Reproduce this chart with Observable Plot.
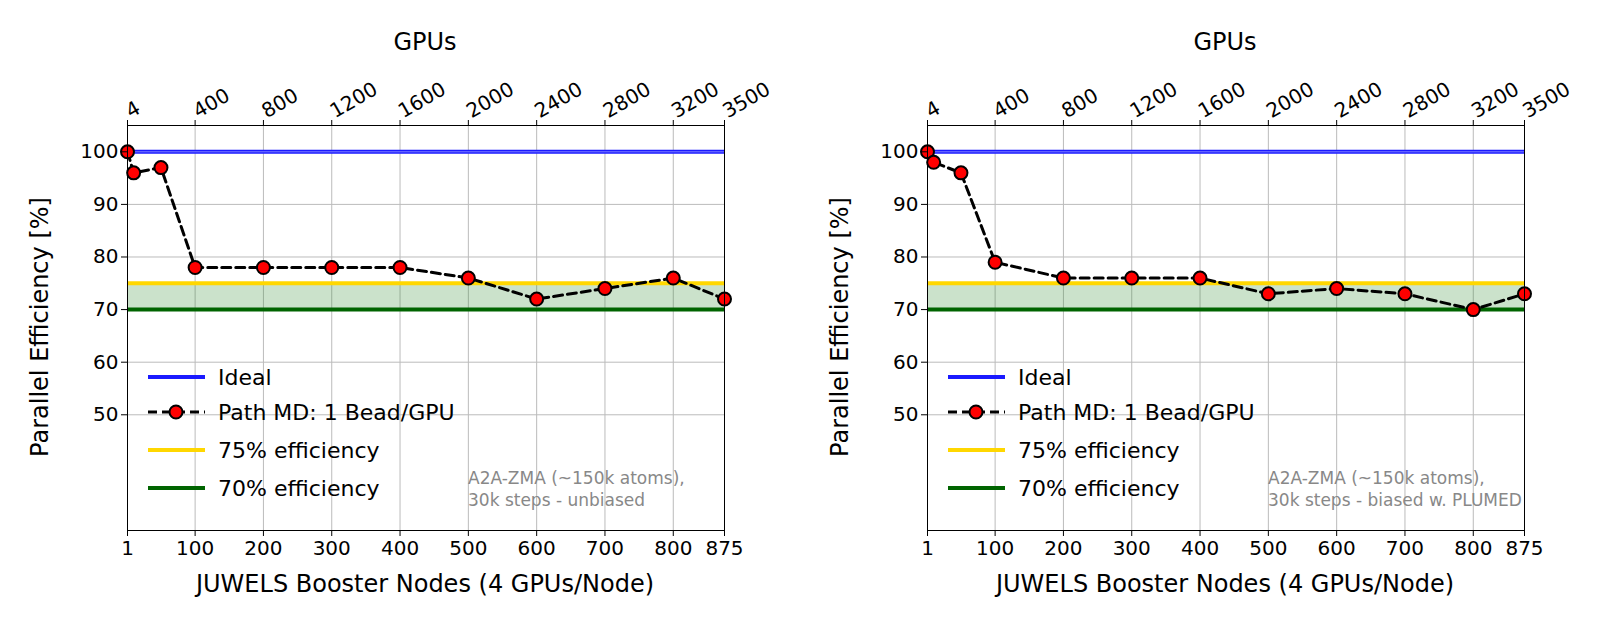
<!DOCTYPE html>
<html><head><meta charset="utf-8">
<script src="https://cdn.jsdelivr.net/npm/d3@7"></script>
<script src="https://cdn.jsdelivr.net/npm/@observablehq/plot@0.6"></script>
<style>body{margin:0;background:#fff;font-family:"DejaVu Sans";} #wrap{display:flex;}</style>
</head><body><div id="wrap"></div>
<script>
const nodes = [1,10,50,100,200,300,400,500,600,700,800,875];
const effUnbiased = [100,96,97,78,78,78,78,76,72,74,76,72];
const effBiased = [100,98,96,79,76,76,76,73,74,73,70,73];
const xTicks = [1,100,200,300,400,500,600,700,800,875];
const yTicks = [50,60,70,80,90,100];
const notes = [["A2A-ZMA (~150k atoms),","30k steps - unbiased"],["A2A-ZMA (~150k atoms),","30k steps - biased w. PLUMED"]];
const panels = [effUnbiased, effBiased];

panels.forEach((vals, i) => {
  const data = nodes.map((n, k) => ({n, e: vals[k]}));
  const chart = Plot.plot({
    width: 800, height: 639,
    marginLeft: 127, marginRight: 76, marginTop: 125, marginBottom: 109,
    style: {fontFamily: "DejaVu Sans", fontSize: "20px", color: "#000"},
    x: {domain: [1, 875]},
    y: {domain: [28, 105]},
    marks: [
      Plot.gridX(xTicks, {stroke: "#bbb", strokeOpacity: 1}),
      Plot.gridY(yTicks, {stroke: "#bbb", strokeOpacity: 1}),
      Plot.areaY([{x:1},{x:875}], {x: "x", y1: 70, y2: 75, fill: "#2e8b2e", fillOpacity: 0.25}),
      Plot.ruleY([100], {stroke: "#1a1aff", strokeWidth: 4}),
      Plot.ruleY([100], {stroke: "#8080ff", strokeWidth: 1}),
      Plot.ruleY([75], {stroke: "#ffd700", strokeWidth: 4}),
      Plot.ruleY([70], {stroke: "#006400", strokeWidth: 4}),
      Plot.line(data, {x: "n", y: "e", stroke: "#000", strokeWidth: 3, strokeDasharray: "9,5"}),
      Plot.dot(data, {x: "n", y: "e", r: 6.5, fill: "#ff0000", stroke: "#000", strokeWidth: 2}),
      Plot.axisX(xTicks, {anchor: "bottom", label: null, tickSize: 6, tickPadding: 4, fontSize: 20, tickFormat: d3.format("d")}),
      Plot.axisX(xTicks, {anchor: "top", label: null, tickSize: 6, tickFormat: d => String(d * 4), tickRotate: -30, fontSize: 20}),
      Plot.axisY(yTicks, {anchor: "left", label: null, tickSize: 6, fontSize: 20}),
      Plot.frame({stroke: "#000"})
    ]
  });
  const svg = d3.select(chart);
  const g = svg.append("g").attr("font-family", "DejaVu Sans").attr("fill", "#000");
  g.append("text").attr("x", 425).attr("y", 50).attr("text-anchor", "middle").attr("font-size", 24).text("GPUs");
  g.append("text").attr("x", 425).attr("y", 592).attr("text-anchor", "middle").attr("font-size", 24).text("JUWELS Booster Nodes (4 GPUs/Node)");
  g.append("text").attr("transform", "translate(48,327) rotate(-90)").attr("text-anchor", "middle").attr("font-size", 24).text("Parallel Efficiency [%]");
  const leg = [["Ideal","#1a1aff",377],["Path MD: 1 Bead/GPU","#000",412],["75% efficiency","#ffd700",450],["70% efficiency","#006400",488]];
  leg.forEach(([t,c,y],k) => {
    if (k === 1) {
      g.append("line").attr("x1",148).attr("x2",205).attr("y1",y).attr("y2",y).attr("stroke","#000").attr("stroke-width",3).attr("stroke-dasharray","9,5");
      g.append("circle").attr("cx",176).attr("cy",y).attr("r",6.5).attr("fill","#f00").attr("stroke","#000").attr("stroke-width",2);
    } else {
      g.append("line").attr("x1",148).attr("x2",205).attr("y1",y).attr("y2",y).attr("stroke",c).attr("stroke-width",4);
    }
    g.append("text").attr("x",218).attr("y",y+8).attr("text-anchor","start").attr("font-size",22).text(t);
  });
  notes[i].forEach((t,k) => g.append("text").attr("x",468).attr("y",484+k*22).attr("text-anchor","start").attr("font-size",17).attr("fill","#888").text(t));
  document.getElementById("wrap").appendChild(chart);
});
</script></body></html>
